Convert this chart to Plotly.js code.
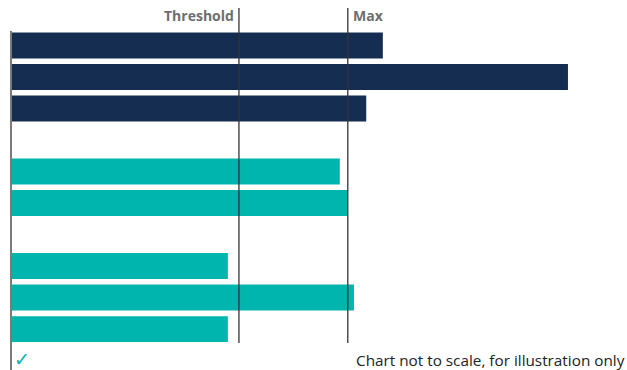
<!DOCTYPE html>
<html>
<head>
<meta charset="utf-8">
<script src="https://cdn.plot.ly/plotly-3.0.1.min.js"></script>
<style>html,body{margin:0;padding:0;background:#fff}#chart{width:627px;height:370px}</style>
</head>
<body>
<div id="chart"></div>
<script>
// Data (arbitrary units, chart not to scale)
var navyPositions = [0, 1, 2];
var navyValues = [60.3, 90.4, 57.6];
var tealPositions = [4, 5, 7, 8, 9];
var tealValues = [53.3, 54.6, 35.1, 55.6, 35.1];
var thresholdValue = 36.9;
var maxValue = 54.6;
var markerLabels = ["Threshold", "Max"];
var footnote = "Chart not to scale, for illustration only";

var traces = [
  {type: 'bar', orientation: 'h', y: navyPositions, x: navyValues,
   marker: {color: '#162D52'}, hoverinfo: 'none'},
  {type: 'bar', orientation: 'h', y: tealPositions, x: tealValues,
   marker: {color: '#00B5AD'}, hoverinfo: 'none'}
];

var layout = {
  width: 627, height: 370,
  margin: {l: 12, r: 0, t: 31, b: 0},
  paper_bgcolor: '#fff', plot_bgcolor: '#fff',
  showlegend: false,
  bargap: 0.18,
  barmode: 'overlay',
  font: {family: 'Open Sans, sans-serif'},
  xaxis: {range: [0, 100], showgrid: false, zeroline: false, showticklabels: false, showline: false, fixedrange: true},
  yaxis: {range: [10.3, -0.46], showgrid: false, zeroline: false, showticklabels: false,
          showline: true, linecolor: '#7a7a7a', linewidth: 2, ticks: '', fixedrange: true},
  shapes: [
    {type: 'line', xref: 'x', yref: 'paper', x0: thresholdValue, x1: thresholdValue, y0: 0.08, y1: 1.068,
     line: {color: '#333', width: 1.3}, layer: 'above'},
    {type: 'line', xref: 'x', yref: 'paper', x0: maxValue, x1: maxValue, y0: 0.08, y1: 1.068,
     line: {color: '#333', width: 1.3}, layer: 'above'}
  ],
  annotations: [
    {text: '<b>' + markerLabels[0] + '</b>', xref: 'x', yref: 'paper', x: thresholdValue, y: 1.045,
     xanchor: 'right', yanchor: 'middle', xshift: -3, showarrow: false,
     font: {size: 14, color: '#6e6e6e', family: 'Open Sans, sans-serif'}},
    {text: '<b>' + markerLabels[1] + '</b>', xref: 'x', yref: 'paper', x: maxValue, y: 1.045,
     xanchor: 'left', yanchor: 'middle', xshift: 3, showarrow: false,
     font: {size: 14, color: '#6e6e6e', family: 'Open Sans, sans-serif'}},
    {text: '✓', xref: 'paper', yref: 'paper', x: 0, y: 0.033, xanchor: 'left', yanchor: 'middle',
     xshift: 0, showarrow: false, font: {size: 19, color: '#00B5AD', family: 'DejaVu Sans, sans-serif'}},
    {text: footnote, xref: 'paper', yref: 'paper', x: 1, y: 0.03, xanchor: 'right', yanchor: 'middle',
     xshift: 0, showarrow: false, font: {size: 15.3, color: '#222', family: 'Open Sans, sans-serif'}}
  ]
};

Plotly.newPlot('chart', traces, layout, {displayModeBar: false, staticPlot: true});
</script>
</body>
</html>
